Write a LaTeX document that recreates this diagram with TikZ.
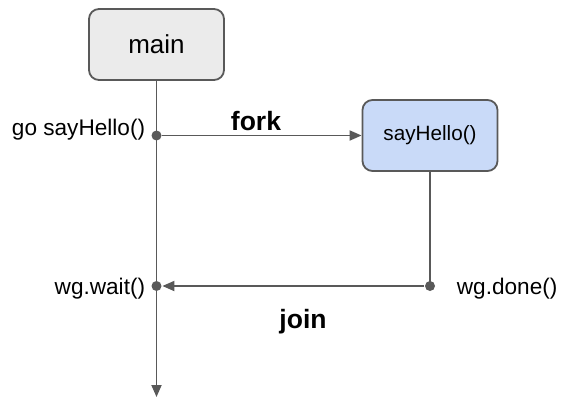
\documentclass[tikz,border=0pt]{standalone}
\usepackage{fontspec}
\setmainfont{Liberation Sans}
\usetikzlibrary{arrows.meta}
\definecolor{linegray}{HTML}{595959}
\definecolor{boxgray}{HTML}{EBEBEB}
\definecolor{boxblue}{HTML}{C9DAF8}

\begin{document}
\begin{tikzpicture}[
  x=1pt, y=-1pt,
  line width=1.8pt,
  proc/.style={rectangle,rounded corners=10pt,draw=linegray,minimum width=135pt,minimum height=71pt,inner sep=0pt},
  dot/.style={circle,fill=linegray,inner sep=0pt,minimum size=10pt},
  flow/.style={draw=linegray,-{Triangle[length=12pt,width=10pt]}},
  lbl/.style={font=\fontsize{22.6}{26}\selectfont,inner sep=0pt},
  tag/.style={font=\fontsize{26.5}{30}\selectfont\bfseries,inner sep=0pt}
]
  \useasboundingbox (0,0) rectangle (572,416);
  \node[proc,fill=boxgray,font=\fontsize{26}{30}\selectfont] (main) at (156.5,44.5) {main};
  \node[proc,fill=boxblue,font=\fontsize{20.7}{24}\selectfont] (hello) at (430,135.5) {sayHello()};
  \coordinate (mainend) at (156.5,397);
  \node[dot] (fork) at (156.5,135.5) {};
  \node[dot] (wait) at (156.5,286) {};
  \node[dot] (done) at (430,286) {};
  \node[lbl,anchor=east] (golbl) at (146,130) {go sayHello()};
  \node[lbl,anchor=east] (waitlbl) at (146,289) {wg.wait()};
  \node[lbl,anchor=west] (donelbl) at (456,289) {wg.done()};
  \node[tag] (forklbl) at (256,121) {fork};
  \node[tag] (joinlbl) at (303,322) {join};
  \draw[flow] (main.south) -- (mainend);
  \draw[flow] (fork) -- (hello.west);
  \draw[draw=linegray] (hello.south) -- (done.center);
  \draw[flow] (done) -- (wait);
\end{tikzpicture}
\end{document}
